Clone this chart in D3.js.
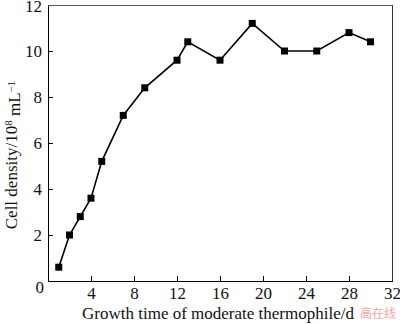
<!DOCTYPE html>
<html>
  <head>
    <meta charset="utf-8">
    <title>Cell density</title>
    <style>
      body { margin: 0; background: #fff; }
      .axis path, .axis line { stroke: #000; stroke-width: 1.2; shape-rendering: crispEdges; }
    </style>
  </head>
  <body>
  <svg id="chart"></svg>
  <script src="https://d3js.org/d3.v7.min.js"></script>
  <script>
    // growth time (d) and cell density (10^8 /mL)
    var days = [1, 2, 3, 4, 5, 7, 9, 12, 13, 16, 19, 22, 25, 28, 30];
    var density = [0.6, 2.0, 2.8, 3.6, 5.2, 7.2, 8.4, 9.6, 10.4, 9.6, 11.2, 10.0, 10.0, 10.8, 10.4];
    var xTicks = [0, 4, 8, 12, 16, 20, 24, 28, 32];
    var yTicks = [0, 2, 4, 6, 8, 10, 12];

    var serif = "'Liberation Serif', 'Times New Roman', 'DejaVu Serif', serif";

    var W = 400, H = 324;
    var margin = {top: 5, right: 8, bottom: 43, left: 48};
    var width = W - margin.left - margin.right;
    var height = H - margin.top - margin.bottom;

    var svg = d3.select("#chart").attr("width", W).attr("height", H);
    var g = svg.append("g").attr("transform", "translate(" + margin.left + "," + margin.top + ")");

    var x = d3.scaleLinear().domain([0, 32]).range([0, width]);
    var y = d3.scaleLinear().domain([0, 12]).range([height, 0]);

    // frame: top and right lines are a bit lighter
    g.append("line").attr("x1", 0).attr("x2", width).attr("y1", 0).attr("y2", 0)
      .attr("stroke", "#555").attr("stroke-width", 1).attr("shape-rendering", "crispEdges");
    g.append("line").attr("x1", width).attr("x2", width).attr("y1", 0).attr("y2", height)
      .attr("stroke", "#333").attr("stroke-width", 1).attr("shape-rendering", "crispEdges");

    // x axis, ticks pointing inward
    var xAxis = g.append("g").attr("class", "axis")
      .attr("transform", "translate(0," + height + ")")
      .call(d3.axisBottom(x).tickValues(xTicks).tickSizeInner(-5).tickSizeOuter(0).tickPadding(6));
    xAxis.attr("font-family", null);
    xAxis.selectAll(".tick text").style("font-family", serif).style("font-size", "17px").style("fill", "#111")
      .attr("dy", "0.72em");
    xAxis.selectAll(".tick text").filter(function(d) { return d === 0; }).remove();
    xAxis.selectAll(".tick line").filter(function(d) { return d === 0 || d === 32; }).remove();

    // y axis
    var yAxis = g.append("g").attr("class", "axis")
      .call(d3.axisLeft(y).tickValues(yTicks).tickSizeInner(-5).tickSizeOuter(0).tickPadding(6));
    yAxis.attr("font-family", null);
    yAxis.selectAll(".tick text").style("font-family", serif).style("font-size", "17px").style("fill", "#111");
    yAxis.selectAll(".tick text").filter(function(d) { return d === 0; })
      .attr("dy", "0.7em").attr("x", -4);
    // top label sits just inside the page edge
    yAxis.selectAll(".tick text").filter(function(d) { return d === 12; })
      .attr("dy", "0.4em");
    yAxis.selectAll(".tick line").filter(function(d) { return d === 0 || d === 12; }).remove();

    var pts = days.map(function(d, i) { return [d, density[i]]; });

    g.append("path").datum(pts)
      .attr("fill", "none").attr("stroke", "#000").attr("stroke-width", 1.6)
      .attr("d", d3.line().x(function(d) { return x(d[0]); }).y(function(d) { return y(d[1]); }));

    g.selectAll("rect.pt").data(pts).enter().append("rect")
      .attr("class", "pt")
      .attr("x", function(d) { return x(d[0]) - 3.5; })
      .attr("y", function(d) { return y(d[1]) - 3.5; })
      .attr("width", 7).attr("height", 7).attr("fill", "#000");

    // axis titles
    svg.append("text").attr("x", 218).attr("y", 319).attr("text-anchor", "middle")
      .style("font-family", serif).style("font-size", "17px").style("fill", "#111")
      .text("Growth time of moderate thermophile/d");

    var yl = svg.append("text").attr("transform", "translate(17,155) rotate(-90)")
      .attr("text-anchor", "middle")
      .style("font-family", serif).style("font-size", "17px").style("fill", "#111");
    yl.append("tspan").text("Cell density/10");
    yl.append("tspan").attr("dy", "-0.45em").style("font-size", "11px").text("8");
    yl.append("tspan").attr("dy", "0.45em").text(" mL");
    yl.append("tspan").attr("dy", "-0.45em").style("font-size", "11px").text("\u22121");

    // faint site mark in the corner
    svg.append("text").attr("x", 396).attr("y", 318).attr("text-anchor", "end")
      .style("font-family", "'Noto Sans CJK SC'").style("font-size", "12px").style("fill", "#f2a6a6")
      .text("高在线");
  </script>
  </body>
</html>
